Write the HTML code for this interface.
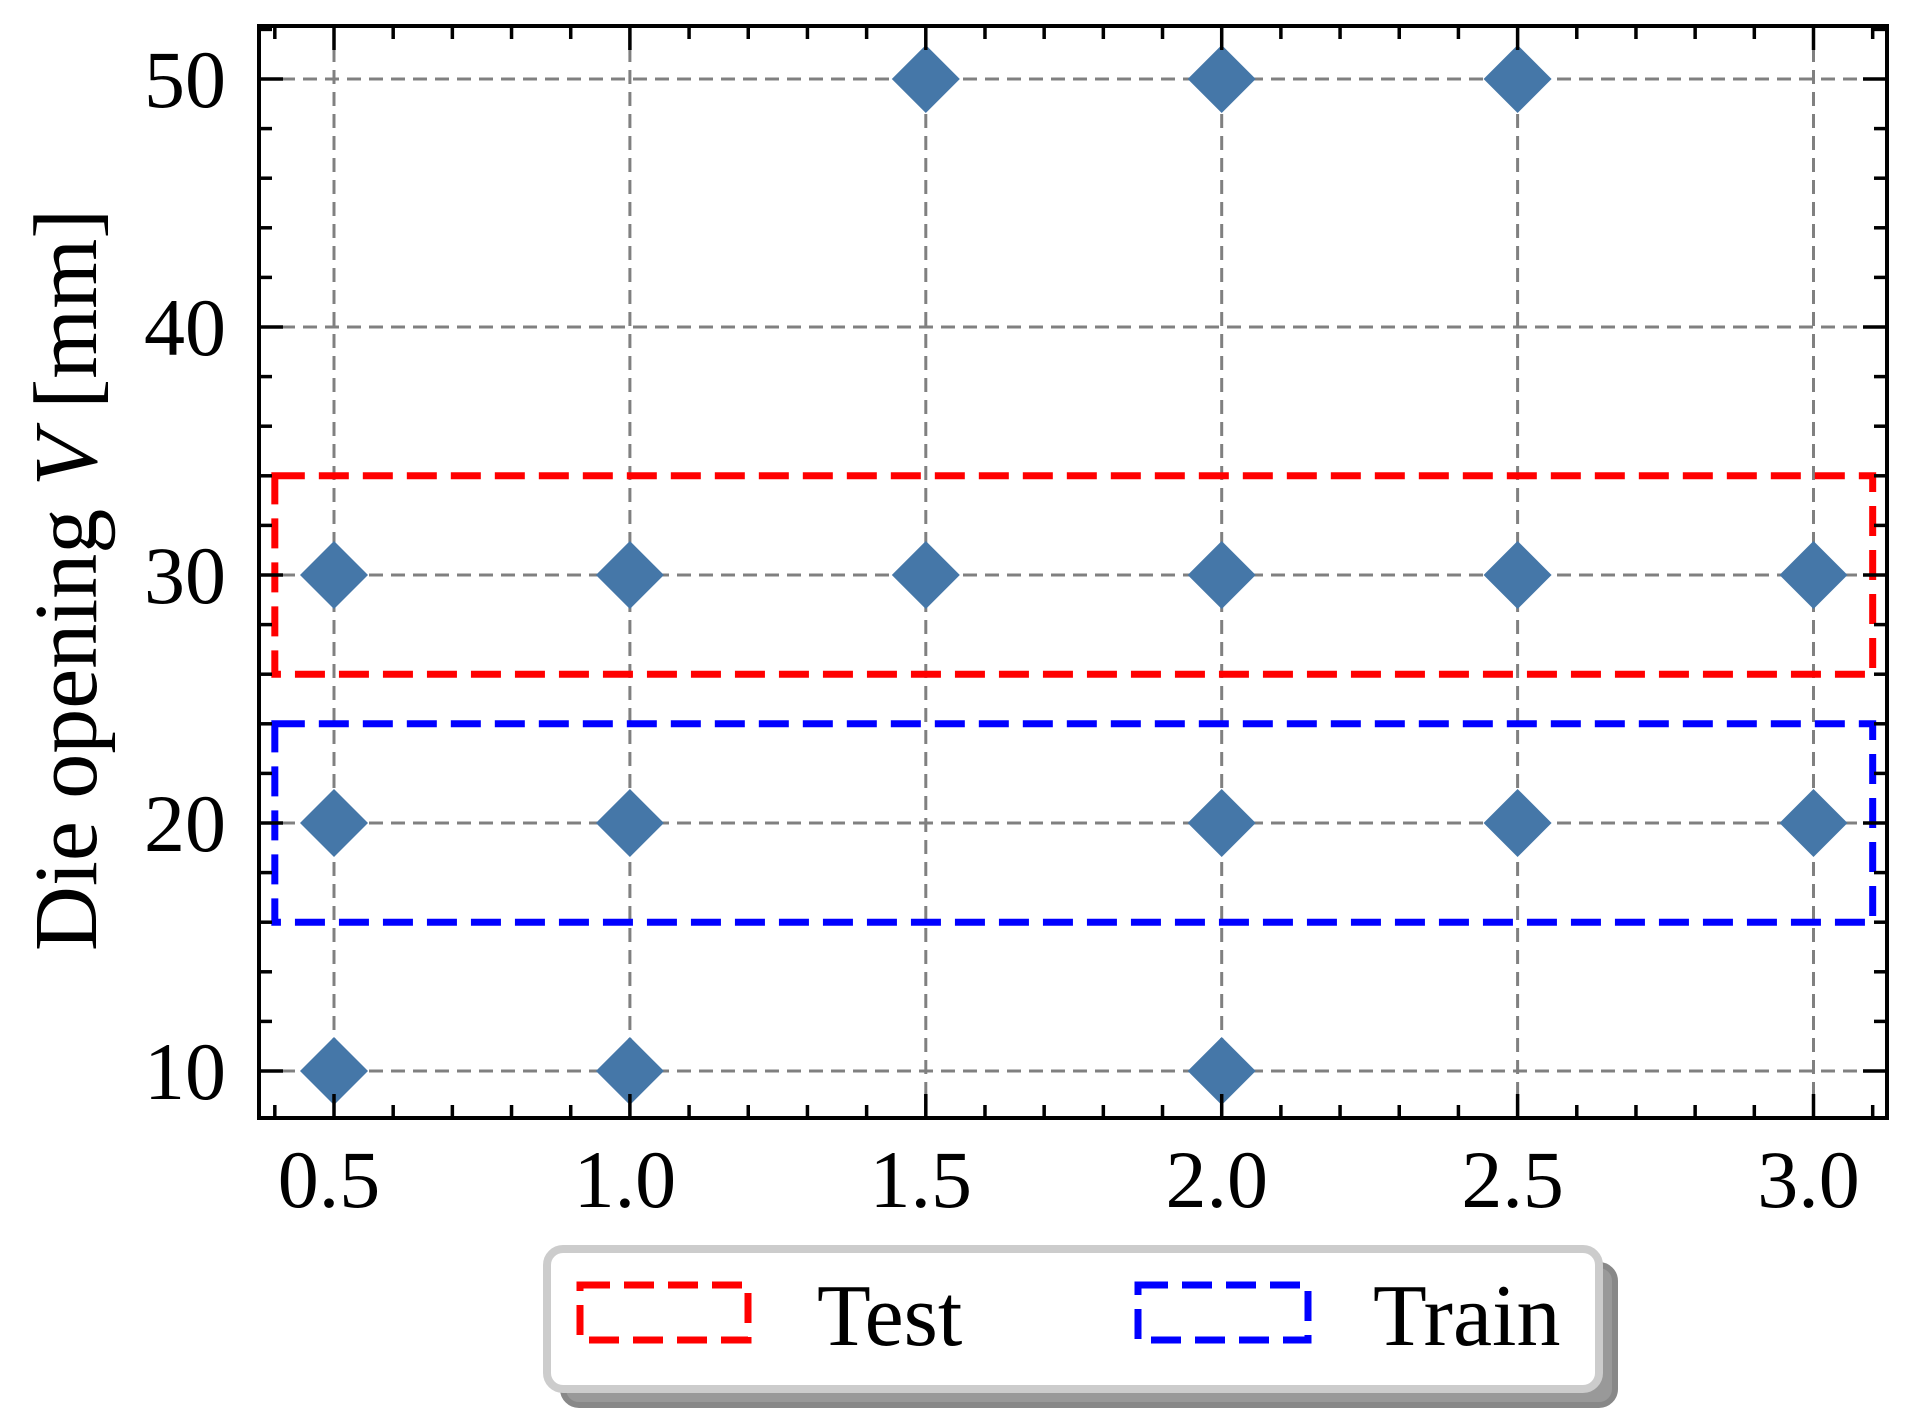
<!DOCTYPE html>
<html><head><meta charset="utf-8"><style>
html,body{margin:0;padding:0;background:#fff;}
svg{display:block;}
text{font-family:"Liberation Serif",serif;fill:#000;}
</style></head><body>
<svg id="chart" width="1916" height="1421" viewBox="0 0 1916 1421" xmlns="http://www.w3.org/2000/svg">
<g id="grid"></g>
<g id="boxes"></g>
<g id="points"></g>
<g id="axes"></g>
<text x="96" y="580" font-size="90" text-anchor="middle" transform="rotate(-90 96 580)">Die opening <tspan font-style="italic">V</tspan> [mm]</text>
<g>
<rect x="563" y="1265" width="1052" height="140" rx="16" fill="#999" stroke="#888" stroke-width="6"/>
<rect x="547" y="1249" width="1052" height="140" rx="16" fill="#fff" stroke="#ccc" stroke-width="8"/>
<g>
<rect x="580" y="1285" width="168" height="55" fill="none" stroke="#ff0000" stroke-width="7" stroke-dasharray="30 14"/>
<text x="817" y="1345" font-size="88">Test</text>
</g>
<g>
<rect x="1138" y="1285" width="170" height="55" fill="none" stroke="#0000ff" stroke-width="7" stroke-dasharray="30 14"/>
<text x="1373" y="1345" font-size="88">Train</text>
</g>
</g>
</svg>
<script>
const xVals = [0.5, 1.0, 1.5, 2.0, 2.5, 3.0, 0.5, 1.0, 2.0, 2.5, 3.0, 0.5, 1.0, 2.0, 1.5, 2.0, 2.5];
const yVals = [30, 30, 30, 30, 30, 30, 20, 20, 20, 20, 20, 10, 10, 10, 50, 50, 50];
const xTicks = [0.5, 1.0, 1.5, 2.0, 2.5, 3.0];
const xTickLabels = ["0.5", "1.0", "1.5", "2.0", "2.5", "3.0"];
const yTicks = [10, 20, 30, 40, 50];
const yTickLabels = ["10", "20", "30", "40", "50"];
const boxNames = ["test", "train"];
const boxX0 = [0.4, 0.4];
const boxX1 = [3.1, 3.1];
const boxY0 = [26, 16];
const boxY1 = [34, 24];
const boxColors = ["#ff0000", "#0000ff"];

const NS = "http://www.w3.org/2000/svg";
const L = 259, R = 1887, T = 26, B = 1118;
const X = v => 334 + (v - 0.5) * 591.8;
const Y = v => 1071 - (v - 10) * 24.8;
function mk(tag, attrs, parent) {
  const e = document.createElementNS(NS, tag);
  for (const k in attrs) e.setAttribute(k, attrs[k]);
  parent.appendChild(e);
  return e;
}
const grid = document.getElementById('grid');
const axes = document.getElementById('axes');
const boxes = document.getElementById('boxes');
const points = document.getElementById('points');

xTicks.forEach(v => {
  const l = mk('line', {x1: X(v), x2: X(v), y1: T, y2: B, stroke: '#808080', 'stroke-width': 3, 'stroke-dasharray': '14 8'}, grid);
  
  
});
yTicks.forEach(v => {
  const l = mk('line', {x1: L, x2: R, y1: Y(v), y2: Y(v), stroke: '#808080', 'stroke-width': 3, 'stroke-dasharray': '14 8'}, grid);
  
  
});

boxNames.forEach((n, i) => {
  const r = mk('rect', {x: X(boxX0[i]), y: Y(boxY1[i]), width: X(boxX1[i]) - X(boxX0[i]), height: Y(boxY0[i]) - Y(boxY1[i]), fill: 'none', stroke: boxColors[i], 'stroke-width': 7, 'stroke-dasharray': '30 14'}, boxes);
  
  
});

xVals.forEach((v, i) => {
  const cx = X(v), cy = Y(yVals[i]), h = 34;
  const p = mk('polygon', {points: `${cx},${cy-h} ${cx+h},${cy} ${cx},${cy+h} ${cx-h},${cy}`, fill: '#4577a8'}, points);
  
  
});

for (let k = 4; k <= 31; k++) {
  const v = k / 10, x = X(v);
  if (x < L || x > R) continue;
  const major = k % 5 === 0;
  const len = major ? 24 : 13;
  mk('line', {x1: x, x2: x, y1: B, y2: B - len, stroke: '#000', 'stroke-width': 3.5}, axes);
  mk('line', {x1: x, x2: x, y1: T, y2: T + len, stroke: '#000', 'stroke-width': 3.5}, axes);
}
for (let v = 10; v <= 52; v += 2) {
  const y = Y(v);
  if (y < T || y > B) continue;
  const major = v % 10 === 0;
  const len = major ? 24 : 13;
  mk('line', {x1: L, x2: L + len, y1: y, y2: y, stroke: '#000', 'stroke-width': 3.5}, axes);
  mk('line', {x1: R, x2: R - len, y1: y, y2: y, stroke: '#000', 'stroke-width': 3.5}, axes);
}
const frame = mk('rect', {x: L, y: T, width: R - L, height: B - T, fill: 'none', stroke: '#000', 'stroke-width': 4}, axes);



xTicks.forEach((v, i) => {
  const t = mk('text', {x: X(v) - 5, y: 1207, 'font-size': 82, 'text-anchor': 'middle'}, axes);
  t.textContent = xTickLabels[i];
  
  
});
yTicks.forEach((v, i) => {
  const t = mk('text', {x: 226, y: Y(v) + 28, 'font-size': 82, 'text-anchor': 'end'}, axes);
  t.textContent = yTickLabels[i];
  
  
});
</script>
</body></html>
